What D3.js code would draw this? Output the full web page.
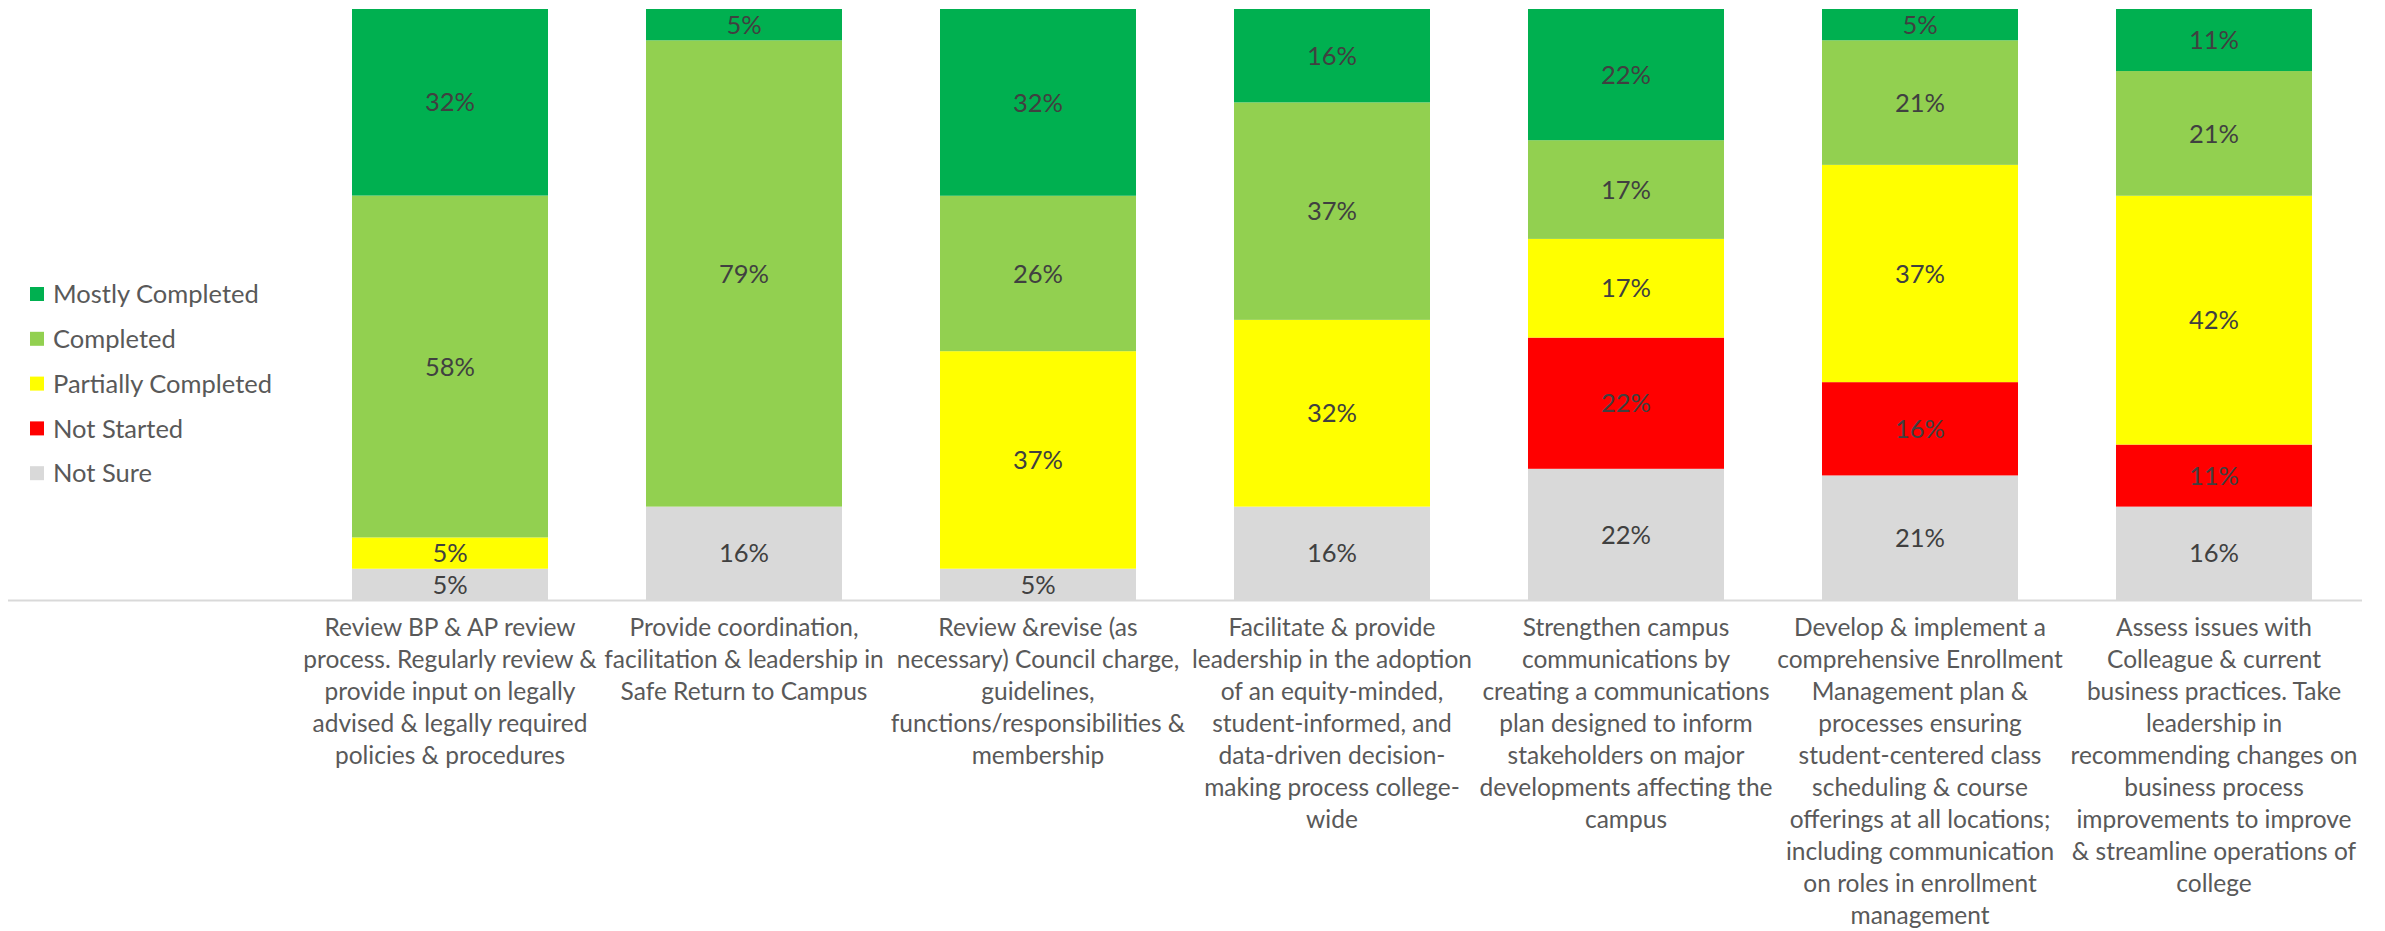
<!DOCTYPE html>
<html>
<head>
<meta charset="utf-8">
<script src="https://cdn.jsdelivr.net/npm/d3@7"></script>
<style>
  html, body { margin: 0; padding: 0; background: #ffffff; }
  svg { display: block; }
  text { font-family: Lato, "Open Sans", sans-serif; }
</style>
</head>
<body>
<svg id="chart" width="2385" height="931"></svg>
<script>
// ---- Data (percent of respondents) ----
const categories = [
  "Review BP & AP review\nprocess. Regularly review &\nprovide input on legally\nadvised & legally required\npolicies & procedures",
  "Provide coordination,\nfacilitation & leadership in\nSafe Return to Campus",
  "Review &revise (as\nnecessary) Council charge,\nguidelines,\nfunctions/responsibilities &\nmembership",
  "Facilitate & provide\nleadership in the adoption\nof an equity-minded,\nstudent-informed, and\ndata-driven decision-\nmaking process college-\nwide",
  "Strengthen campus\ncommunications by\ncreating a communications\nplan designed to inform\nstakeholders on major\ndevelopments affecting the\ncampus",
  "Develop & implement a\ncomprehensive Enrollment\nManagement plan &\nprocesses ensuring\nstudent-centered class\nscheduling & course\nofferings at all locations;\nincluding communication\non roles in enrollment\nmanagement",
  "Assess issues with\nColleague & current\nbusiness practices. Take\nleadership in\nrecommending changes on\nbusiness process\nimprovements to improve\n& streamline operations of\ncollege"
];

const seriesNames = ["Not Sure", "Not Started", "Partially Completed", "Completed", "Mostly Completed"];
const legendOrder = ["Mostly Completed", "Completed", "Partially Completed", "Not Started", "Not Sure"];

const notSure            = [5.3, 15.8, 5.3, 15.8, 22.2, 21.1, 15.8];
const notStarted         = [0,   0,    0,   0,    22.2, 15.8, 10.5];
const partiallyCompleted = [5.3, 0,    36.8, 31.6, 16.7, 36.8, 42.1];
const completed          = [57.9, 78.9, 26.3, 36.8, 16.7, 21.1, 21.1];
const mostlyCompleted    = [31.6, 5.3, 31.6, 15.8, 22.2, 5.3, 10.5];

const seriesColors = {
  "Mostly Completed": "#00B050",
  "Completed": "#92D050",
  "Partially Completed": "#FFFF00",
  "Not Started": "#FF0000",
  "Not Sure": "#D9D9D9"
};

// ---- Build table ----
const seriesValues = {
  "Not Sure": notSure,
  "Not Started": notStarted,
  "Partially Completed": partiallyCompleted,
  "Completed": completed,
  "Mostly Completed": mostlyCompleted
};
const table = categories.map((c, i) => {
  const row = { category: c };
  seriesNames.forEach(s => row[s] = seriesValues[s][i]);
  return row;
});

const stacked = d3.stack()
  .keys(seriesNames)
  .offset(d3.stackOffsetExpand)(table);

// ---- Layout ----
const svg = d3.select("#chart");
const x = d3.scaleBand()
  .domain(categories)
  .range([303, 2361])
  .paddingInner(1/3)
  .paddingOuter(1/6);
const y = d3.scaleLinear().domain([0, 1]).range([600, 9]);
const pct = d3.format(".0%");

// bars
const layers = svg.append("g").selectAll("g")
  .data(stacked)
  .join("g")
  .attr("fill", d => seriesColors[d.key]);

layers.selectAll("rect")
  .data(d => d.map(p => ({ p, key: d.key })))
  .join("rect")
  .attr("x", d => x(d.p.data.category))
  .attr("width", x.bandwidth())
  .attr("y", d => y(d.p[1]))
  .attr("height", d => Math.max(0, y(d.p[0]) - y(d.p[1])));

// data labels
const labelData = [];
stacked.forEach(layer => {
  layer.forEach(p => {
    const v = p.data[layer.key];
    if (v > 0) labelData.push({ cat: p.data.category, mid: (p[0] + p[1]) / 2, v });
  });
});
svg.append("g").selectAll("text")
  .data(labelData)
  .join("text")
  .attr("x", d => x(d.cat) + x.bandwidth() / 2)
  .attr("y", d => y(d.mid))
  .attr("dy", "0.36em")
  .attr("text-anchor", "middle")
  .attr("font-size", 25.5)
  .attr("fill", "#404040")
  .text(d => pct(d.v / 100));

// axis line
svg.append("line")
  .attr("x1", 8).attr("x2", 2362)
  .attr("y1", y(0) + 0.5).attr("y2", y(0) + 0.5)
  .attr("stroke", "#D9D9D9")
  .attr("stroke-width", 2);

// category labels
const xAxis = d3.axisBottom(x).tickSize(0).tickFormat("");
const axisG = svg.append("g").attr("transform", `translate(0,${y(0)})`).call(xAxis);
axisG.select(".domain").remove();
axisG.selectAll(".tick").each(function(c) {
  const t = d3.select(this).append("text")
    .attr("text-anchor", "middle")
    .attr("fill", "#595959")
    .attr("font-size", 24.5)
    .attr("font-family", "Lato, sans-serif");
  c.split("\n").forEach((line, i) => {
    t.append("tspan")
      .attr("x", 0)
      .attr("y", 27 + i * 32)
      .attr("dy", "0.36em")
      .text(line);
  });
});

// legend
const legend = svg.append("g").selectAll("g")
  .data(legendOrder)
  .join("g")
  .attr("transform", (d, i) => `translate(30,${294 + i * 44.8})`);
legend.append("rect")
  .attr("x", 0).attr("y", -7)
  .attr("width", 14).attr("height", 14)
  .attr("fill", d => seriesColors[d]);
legend.append("text")
  .attr("x", 23).attr("y", 0)
  .attr("dy", "0.36em")
  .attr("font-size", 25.5)
  .attr("fill", "#595959")
  .text(d => d);
</script>
</body>
</html>
